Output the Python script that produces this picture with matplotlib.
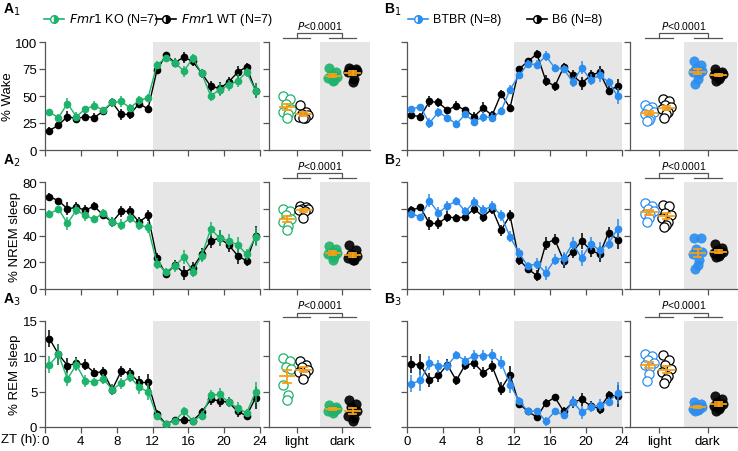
import numpy as np
import matplotlib
matplotlib.use("Agg")
import matplotlib.pyplot as plt

plt.rcParams['font.family'] = ['Liberation Sans', 'DejaVu Sans']
plt.rcParams['font.size'] = 9.5

GREEN = '#1db36a'
BLUE = '#2b8df0'
BLACK = '#000000'
ORANGE = '#f5a019'
SHADE = '#e6e6e6'

zt = np.arange(24) + 0.5

# ---- hourly means (A: Fmr1 KO / WT, B: BTBR / B6)
a1_ko = [35, 30, 43, 31, 38, 41, 37, 44, 45, 39, 46, 48, 79, 85, 81, 73, 85, 71, 50, 56, 60, 64, 72, 55]
a1_wt = [18, 23, 31, 29, 31, 30, 36, 44, 33, 33, 43, 38, 74, 88, 81, 86, 82, 71, 59, 57, 63, 72, 77, 55]
a2_ko = [56, 60, 49, 59, 55, 52, 57, 50, 48, 53, 48, 46, 19, 13, 17, 24, 13, 25, 45, 38, 36, 33, 26, 39]
a2_wt = [69, 66, 60, 61, 59, 62, 55, 50, 58, 58, 50, 55, 23, 11, 18, 12, 16, 26, 36, 38, 33, 25, 21, 40]
a3_ko = [8.8, 10.3, 6.8, 8.8, 6.5, 6.4, 6.8, 5.3, 6.2, 7.1, 5.6, 5.0, 1.5, 0.4, 0.9, 2.2, 0.9, 1.6, 4.5, 4.6, 3.5, 2.7, 2.0, 4.9]
a3_wt = [12.5, 10.3, 8.7, 9.0, 8.8, 7.7, 7.8, 5.3, 7.9, 7.6, 6.3, 6.3, 1.9, 0.4, 1.0, 1.0, 0.9, 2.1, 3.9, 3.7, 3.5, 2.2, 1.6, 4.1]
b1_btbr = [38, 40, 25, 35, 30, 24, 33, 26, 31, 30, 36, 56, 69, 80, 79, 87, 76, 75, 63, 76, 65, 69, 63, 50]
b1_b6 = [32, 31, 45, 44, 37, 41, 37, 31, 39, 32, 52, 39, 75, 82, 89, 64, 59, 77, 69, 62, 69, 72, 55, 59]
b2_btbr = [56, 54, 66, 57, 62, 66, 58, 65, 59, 62, 55, 39, 27, 17, 19, 12, 22, 23, 34, 23, 34, 29, 34, 45]
b2_b6 = [59, 61, 49, 49, 54, 53, 54, 60, 54, 60, 44, 55, 22, 15, 10, 34, 37, 21, 28, 36, 29, 26, 42, 37]
b3_btbr = [6.1, 6.6, 9.0, 8.6, 8.7, 10.2, 9.4, 10.1, 10.1, 10.2, 9.1, 6.0, 3.7, 2.2, 2.3, 0.8, 2.2, 1.7, 3.6, 2.1, 2.8, 3.1, 3.6, 4.8]
b3_b6 = [8.9, 8.8, 6.7, 7.3, 8.8, 6.6, 8.8, 9.0, 7.7, 8.6, 5.4, 7.4, 3.3, 2.2, 1.4, 3.4, 4.2, 2.2, 3.5, 3.9, 3.0, 2.6, 4.5, 4.4]

# ---- hourly SEMs
err_wake = [3, 3, 5, 4, 3, 4, 3, 4, 5, 4, 4, 4, 3, 3, 4, 5, 4, 4, 5, 6, 5, 6, 4, 7]
err_nrem = [3, 2, 5, 4, 4, 3, 3, 4, 4, 4, 4, 4, 4, 3, 4, 5, 4, 5, 5, 6, 5, 6, 4, 7]
err_rem = [1.2, 1.5, 1.0, 0.9, 0.8, 0.6, 0.7, 0.8, 0.8, 0.8, 0.9, 1.2, 0.5, 0.3, 0.4, 0.6, 0.4, 0.6, 0.8, 0.9, 0.7, 0.8, 0.6, 1.5]

# ---- per-animal light/dark averages
a1_pts = [[50, 47, 43, 38, 35, 33, 30], [42, 35, 33, 32, 31, 30, 30],
          [76, 72, 70, 68, 67, 65, 64], [76, 75, 74, 73, 72, 66, 63]]
a2_pts = [[60, 58, 55, 52, 50, 47, 44], [62, 61, 60, 60, 59, 58, 53],
          [32, 30, 28, 27, 26, 24, 22], [33, 29, 26, 25, 23, 22, 22]]
a3_pts = [[9.8, 9.3, 8.5, 8.2, 6.0, 4.5, 3.8], [9.3, 8.8, 8.5, 8.1, 7.8, 7.5, 6.8],
          [3.1, 2.8, 2.6, 2.5, 2.3, 2.2, 2.0], [3.8, 3.3, 2.8, 2.2, 1.5, 1.3, 0.9]]
b1_pts = [[42, 40, 38, 35, 33, 30, 28, 27], [47, 45, 42, 40, 38, 35, 33, 30],
          [82, 79, 76, 73, 72, 70, 66, 61], [75, 72, 71, 70, 69, 68, 66, 64]]
b2_pts = [[64, 62, 60, 58, 56, 55, 53, 50], [63, 62, 57, 55, 53, 50, 48, 46],
          [38, 38, 30, 28, 26, 22, 18, 15], [34, 31, 29, 28, 27, 26, 25, 24]]
b3_pts = [[10.3, 10.0, 9.5, 9.0, 8.8, 8.5, 7.5, 6.5], [10.2, 9.5, 8.8, 8.2, 7.8, 7.2, 6.8, 6.2],
          [3.6, 3.3, 3.0, 2.8, 2.6, 2.5, 2.4, 2.2], [4.4, 3.9, 3.6, 3.3, 3.0, 2.8, 2.5, 2.2]]

jitter = [-0.15, 0.12, -0.05, 0.18, -0.18, 0.05, 0.0, -0.1]

W, H = 738, 452
fig = plt.figure(figsize=(W / 100, H / 100), dpi=100)


def px_axes(x0, x1, ytop, ybot):
    return fig.add_axes([x0 / W, 1 - ybot / H, (x1 - x0) / W, (ybot - ytop) / H])


def style(ax):
    for s in ['top', 'right']:
        ax.spines[s].set_visible(False)
    for s in ['left', 'bottom']:
        ax.spines[s].set_color('#555555')
        ax.spines[s].set_linewidth(0.9)
    ax.tick_params(direction='out', length=4, width=0.9, color='#555555', labelsize=9.5, pad=1.5)


def line_panel(ax, s1, s2, err, c1, ymax, yticks, ylabel, bottom):
    style(ax)
    ax.axvspan(12, 24, color=SHADE, lw=0, zorder=0)
    for s, c, z in [(s2, BLACK, 3), (s1, c1, 4)]:
        ax.errorbar(zt, s, yerr=err, color=c, marker='o', ms=4.5, lw=1.0,
                    elinewidth=1.1, ecolor=c, capsize=0, zorder=z)
    ax.set_xlim(0, 24)
    ax.set_ylim(0, ymax)
    ax.set_xticks(range(0, 25, 4))
    ax.set_yticks(yticks)
    if not bottom:
        ax.set_xticklabels([])
    if ylabel:
        ax.set_ylabel(ylabel, fontsize=9.5, labelpad=1)
    else:
        ax.set_yticklabels([])


def dot_panel(ax, pts, c1, ymax, yticks, bottom):
    style(ax)
    xpos = [0.75, 1.43, 2.65, 3.48]
    ax.axvspan(2.1, 4.2, color=SHADE, lw=0, zorder=0)
    for i, vals in enumerate(pts):
        col = c1 if i % 2 == 0 else BLACK
        xs = [xpos[i] + jitter[j] for j in range(len(vals))]
        if i < 2:
            ax.scatter(xs, vals, s=44, facecolors='white', edgecolors=col, lw=0.9, zorder=3)
        else:
            ax.scatter(xs, vals, s=44, facecolors=col, edgecolors=col, lw=0.6, alpha=0.9, zorder=3)
        m = np.mean(vals)
        se = np.std(vals, ddof=1) / np.sqrt(len(vals))
        ax.plot([xpos[i] - 0.3, xpos[i] + 0.3], [m, m], color=ORANGE, lw=1.3, zorder=5)
        ax.plot([xpos[i], xpos[i]], [m - se, m + se], color=ORANGE, lw=1.3, zorder=5)
        for yy in (m - se, m + se):
            ax.plot([xpos[i] - 0.15, xpos[i] + 0.15], [yy, yy], color=ORANGE, lw=1.3, zorder=5)
    ax.set_xlim(0, 4.2)
    ax.set_ylim(0, ymax)
    ax.set_yticks(yticks)
    ax.set_yticklabels([])
    ax.set_xticks([1.15, 3.05])
    if bottom:
        ax.set_xticklabels(['light', 'dark'], fontsize=9.5)
    else:
        ax.set_xticklabels([])
    # significance bracket
    tr = ax.get_xaxis_transform()
    kw = dict(color='#555555', lw=0.9, transform=tr, clip_on=False)
    ax.plot([0.6, 1.7], [1.04, 1.04], **kw)
    ax.plot([2.5, 3.6], [1.04, 1.04], **kw)
    ax.plot([1.15, 1.15, 3.05, 3.05], [1.04, 1.08, 1.08, 1.04], **kw)
    ax.text(2.1, 1.1, '$P$<0.0001', transform=tr, ha='center', va='bottom', fontsize=7.5)


rows = [(43, 151), (183, 290), (322, 428)]
ylabels = ['% Wake', '% NREM sleep', '% REM sleep']
ymaxs = [100, 80, 15]
yticks = [[0, 25, 50, 75, 100], [0, 20, 40, 60, 80], [0, 5, 10, 15]]
errs = [err_wake, err_nrem, err_rem]
A_series = [(a1_ko, a1_wt, a1_pts), (a2_ko, a2_wt, a2_pts), (a3_ko, a3_wt, a3_pts)]
B_series = [(b1_btbr, b1_b6, b1_pts), (b2_btbr, b2_b6, b2_pts), (b3_btbr, b3_b6, b3_pts)]

for r, (yt, yb) in enumerate(rows):
    bottom = r == 2
    s1, s2, pts = A_series[r]
    line_panel(px_axes(45, 260, yt, yb), s1, s2, errs[r], GREEN, ymaxs[r], yticks[r], ylabels[r], bottom)
    dot_panel(px_axes(269, 370, yt, yb), pts, GREEN, ymaxs[r], yticks[r], bottom)
    s1, s2, pts = B_series[r]
    line_panel(px_axes(407, 622, yt, yb), s1, s2, errs[r], BLUE, ymaxs[r], yticks[r], None, bottom)
    dot_panel(px_axes(630, 737, yt, yb), pts, BLUE, ymaxs[r], yticks[r], bottom)
    ly = 10 if r == 0 else yt - 22
    fig.text(3 / W, 1 - ly / H, 'A$_%d$' % (r + 1), fontsize=10, fontweight='bold', va='center')
    fig.text(384 / W, 1 - ly / H, 'B$_%d$' % (r + 1), fontsize=10, fontweight='bold', va='center')

fig.text(40 / W, 1 - 440 / H, 'ZT (h):', fontsize=9.5, va='center', ha='right')


# legends
leg = fig.add_axes([0, 0, 1, 1], facecolor='none')
leg.set_axis_off()
leg.set_xlim(0, W)
leg.set_ylim(H, 0)


def legend_item(x, y, col, label):
    leg.plot([x, x + 20], [y, y], color=col, lw=1.2)
    leg.plot([x + 10], [y], marker='o', ms=5.5, color=col, markerfacecolor=col,
             markerfacecoloralt='white', fillstyle='right', mew=1.0)
    leg.text(x + 25, y, label, va='center', fontsize=9)


legend_item(44, 20, GREEN, '$\\it{Fmr1}$ KO (N=7)')
legend_item(156, 20, BLACK, '$\\it{Fmr1}$ WT (N=7)')
legend_item(408, 20, BLUE, 'BTBR (N=8)')
legend_item(527, 20, BLACK, 'B6 (N=8)')

fig.savefig('out.png', dpi=100)
